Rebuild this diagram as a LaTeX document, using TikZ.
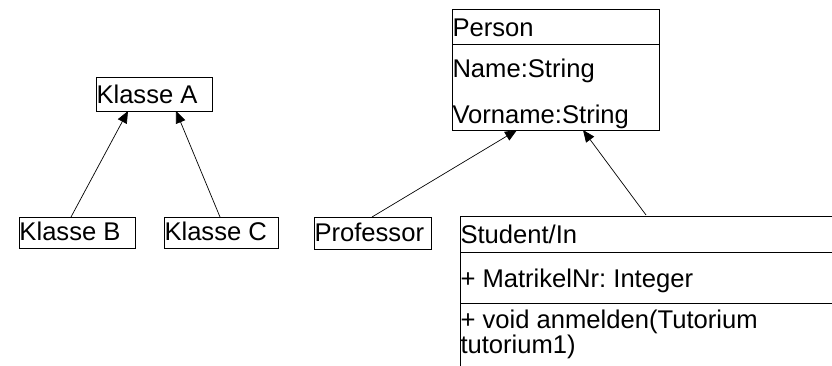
\documentclass[tikz,border=0pt]{standalone}
\usepackage{fontspec}
\setmainfont{Liberation Sans}
\usetikzlibrary{arrows.meta,calc}
\frenchspacing
\begin{document}
\begin{tikzpicture}[x=1pt,y=-1pt,
  box/.style={draw=black,line width=0.8pt,rectangle,inner sep=0pt,outer sep=0pt,anchor=north west},
  lbl/.style={inner sep=0pt,outer sep=0pt,anchor=base west,font=\fontsize{25.6}{29}\selectfont},
  inh/.style={line width=0.7pt,-{Triangle[length=12pt,width=10pt]}}]
\clip (0,0) rectangle (832,365);
\fill[white] (0,0) rectangle (832,365);

% simple classes
\node[box,minimum width=116pt,minimum height=34pt] (ka) at (96,77) {};
\node[box,minimum width=116pt,minimum height=31pt] (kb) at (19,217) {};
\node[box,minimum width=114pt,minimum height=31pt] (kc) at (164,217) {};
\node[box,minimum width=117pt,minimum height=32pt] (prof) at (314,217) {};

\node[lbl] (tka) at (96.5,103) {Klasse A};
\node[lbl] (tkb) at (19.5,240) {Klasse B};
\node[lbl] (tkc) at (164.5,240) {Klasse C};
\node[lbl] (tprof) at (314.5,241) {Professor};

% class Person with attributes
\node[box,minimum width=207pt,minimum height=121pt] (person) at (452,9) {};
\draw[line width=0.8pt] ($(person.north west)+(0,35)$) -- ($(person.north east)+(0,35)$);
\node[lbl] (tperson) at (452.5,36) {Person};
\node[lbl] (tname) at (452.5,77) {Name:String};
\node[lbl] (tvorname) at (452.5,123) {Vorname:String};

% class Student/In with attribute and method compartments
\node[box,minimum width=400pt,minimum height=170pt] (stud) at (460,216) {};
\draw[line width=0.8pt] ($(stud.north west)+(0,36)$) -- ($(stud.north east)+(0,36)$);
\draw[line width=0.8pt] ($(stud.north west)+(0,87)$) -- ($(stud.north east)+(0,87)$);
\node[lbl] (tstud) at (460.5,243) {Student/In};
\node[lbl] (tmatr) at (460.5,287) {+ MatrikelNr: Integer};
\node[lbl] (tanm) at (460.5,328) {+ void anmelden(Tutorium};
\node[lbl] (ttut) at (460.5,353) {tutorium1)};

% generalisations
\draw[inh] ($(kb.north west)+(52,0)$) -- ($(ka.south west)+(32,0)$);
\draw[inh] ($(kc.north west)+(56,0)$) -- ($(ka.south west)+(80,0)$);
\draw[inh] ($(prof.north west)+(58,0)$) -- ($(person.south west)+(65,0)$);
\draw[inh] ($(stud.north west)+(186,-1)$) -- ($(person.south west)+(131,0)$);
\end{tikzpicture}
\end{document}
